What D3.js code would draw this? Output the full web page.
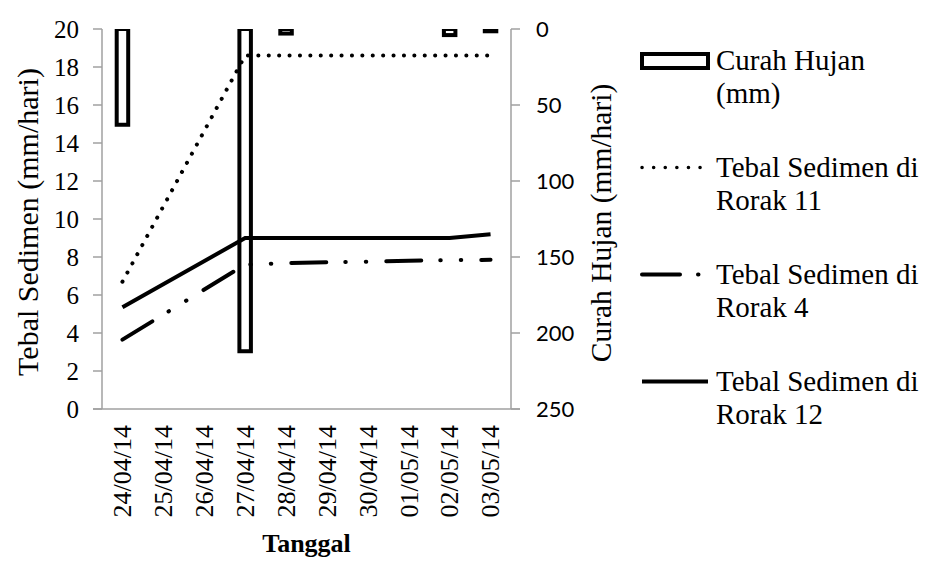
<!DOCTYPE html>
<html lang="en">
<head>
    <meta charset="UTF-8">
    <title>Tebal Sedimen dan Curah Hujan</title>
    <script src="https://d3js.org/d3.v7.min.js"></script>
    <style>
        body { margin: 0; background: #fff; }
        text { font-family: "Liberation Serif", "Times New Roman", serif; fill: #000; }
        .axis-line { stroke: #a0a0a0; stroke-width: 1.5px; fill: none; }
        .rtick { font-family: Lato, "Open Sans", sans-serif; }
    </style>
</head>
<body>
    <svg width="930" height="573"></svg>
    <script>
        // data
        const dates = ["24/04/14", "25/04/14", "26/04/14", "27/04/14", "28/04/14",
                       "29/04/14", "30/04/14", "01/05/14", "02/05/14", "03/05/14"];
        const curahHujan = [63, 0, 0, 212, 3, 0, 0, 0, 4, 1.5];
        const rorak11 = [6.7, null, null, 18.6, 18.6, 18.6, 18.6, 18.6, 18.6, 18.6];
        const rorak4 = [3.65, null, null, 7.6, 7.68, 7.72, 7.75, 7.8, 7.84, 7.85];
        const rorak12 = [5.35, null, null, 9.0, 9.0, 9.0, 9.0, 9.0, 9.0, 9.2];
        const leftTicks = [0, 2, 4, 6, 8, 10, 12, 14, 16, 18, 20];
        const rightTicks = [0, 50, 100, 150, 200, 250];

        const svg = d3.select("svg");
        const pLeft = 102, pRight = 511, pTop = 29, pBottom = 409;

        const x = d3.scaleBand().domain(dates).range([pLeft, pRight]);
        const yL = d3.scaleLinear().domain([0, 20]).range([pBottom, pTop]);
        const yR = d3.scaleLinear().domain([0, 250]).range([pTop, pBottom]);

        svg.append("clipPath").attr("id", "plot")
            .append("rect")
            .attr("x", pLeft).attr("y", pTop)
            .attr("width", pRight - pLeft).attr("height", pBottom - pTop);

        // rainfall bars hanging from the top (reversed right axis)
        const barW = 11.5;
        svg.append("g").attr("clip-path", "url(#plot)")
            .selectAll("rect")
            .data(dates.map((d, i) => ({ d: d, v: curahHujan[i] })).filter(p => p.v > 0))
            .enter().append("rect")
            .attr("x", p => x(p.d) + x.bandwidth() / 2 - barW / 2)
            .attr("y", yR(0))
            .attr("width", barW)
            .attr("height", p => yR(p.v) - yR(0))
            .attr("fill", "#fff")
            .attr("stroke", "#000")
            .attr("stroke-width", 4);

        // sediment lines
        const line = d3.line()
            .x(p => x(p.d) + x.bandwidth() / 2)
            .y(p => yL(p.v));

        function points(values) {
            return dates.map((d, i) => ({ d: d, v: values[i] })).filter(p => p.v != null);
        }

        const series = [
            { values: rorak11, dash: "0.1 10.3", width: 4 },
            { values: rorak4, dash: "35 19 0.5 20 0.5 20", width: 4 },
            { values: rorak12, dash: null, width: 4 }
        ];

        series.forEach(s => {
            svg.append("path")
                .attr("d", line(points(s.values)))
                .attr("fill", "none")
                .attr("stroke", "#000")
                .attr("stroke-width", s.width)
                .attr("stroke-linecap", s.dash ? "round" : "butt")
                .attr("stroke-dasharray", s.dash);
        });

        // axes
        const axes = svg.append("g");
        axes.append("line").attr("class", "axis-line")
            .attr("x1", pLeft).attr("x2", pLeft).attr("y1", pTop).attr("y2", pBottom);
        axes.append("line").attr("class", "axis-line")
            .attr("x1", pRight).attr("x2", pRight).attr("y1", pTop).attr("y2", pBottom);
        axes.append("line").attr("class", "axis-line")
            .attr("x1", pLeft - 9).attr("x2", pRight + 9).attr("y1", pBottom).attr("y2", pBottom);

        axes.selectAll(".ltick").data(leftTicks).enter().append("line")
            .attr("class", "axis-line")
            .attr("x1", pLeft - 9).attr("x2", pLeft)
            .attr("y1", d => yL(d)).attr("y2", d => yL(d));
        axes.selectAll(".llab").data(leftTicks).enter().append("text")
            .attr("x", 79).attr("y", d => yL(d))
            .attr("dy", "0.35em")
            .attr("text-anchor", "end")
            .style("font-size", "25px")
            .text(d => d);

        axes.selectAll(".rtickline").data(rightTicks).enter().append("line")
            .attr("class", "axis-line")
            .attr("x1", pRight).attr("x2", pRight + 9)
            .attr("y1", d => yR(d)).attr("y2", d => yR(d));
        axes.selectAll(".rlab").data(rightTicks).enter().append("text")
            .attr("class", "rtick")
            .attr("x", 536).attr("y", d => yR(d))
            .attr("dy", "0.36em")
            .style("font-size", "22px")
            .text(d => d);

        // date labels, rotated
        axes.selectAll(".xlab").data(dates).enter().append("text")
            .attr("transform", d => "translate(" + (x(d) + x.bandwidth() / 2) + ",425) rotate(-90)")
            .attr("dy", "0.34em")
            .attr("text-anchor", "end")
            .style("font-size", "26px")
            .text(d => d);

        svg.append("text")
            .attr("x", (pLeft + pRight) / 2).attr("y", 552)
            .attr("text-anchor", "middle")
            .style("font-size", "26px")
            .style("font-weight", "bold")
            .text("Tanggal");

        svg.append("text")
            .attr("transform", "translate(38,222) rotate(-90)")
            .attr("text-anchor", "middle")
            .style("font-size", "30px")
            .text("Tebal Sedimen (mm/hari)");

        svg.append("text")
            .attr("transform", "translate(611,223) rotate(-90)")
            .attr("text-anchor", "middle")
            .style("font-size", "29.5px")
            .text("Curah Hujan (mm/hari)");

        // legend
        const legendItems = [
            { type: "bar", lines: ["Curah Hujan", "(mm)"] },
            { type: "line", dash: "0.1 11.5", width: 3.5, lines: ["Tebal Sedimen di", "Rorak 11"] },
            { type: "line", dash: "38 18 0.5 20", width: 4, lines: ["Tebal Sedimen di", "Rorak 4"] },
            { type: "line", dash: null, width: 4, lines: ["Tebal Sedimen di", "Rorak 12"] }
        ];

        const legend = svg.append("g");
        legendItems.forEach((item, i) => {
            const base = 70 + i * 107;
            const g = legend.append("g");
            if (item.type === "bar") {
                g.append("rect")
                    .attr("x", 642).attr("y", base - 16)
                    .attr("width", 66).attr("height", 14)
                    .attr("fill", "#fff").attr("stroke", "#000").attr("stroke-width", 4);
            } else {
                g.append("line")
                    .attr("x1", 642).attr("x2", 708)
                    .attr("y1", base - 9.5).attr("y2", base - 9.5)
                    .attr("stroke", "#000")
                    .attr("stroke-width", item.width)
                    .attr("stroke-linecap", item.dash ? "round" : "butt")
                    .attr("stroke-dasharray", item.dash);
            }
            item.lines.forEach((t, j) => {
                g.append("text")
                    .attr("x", 716).attr("y", base + j * 33.3)
                    .style("font-size", "29px")
                    .text(t);
            });
        });
    </script>
</body>
</html>
